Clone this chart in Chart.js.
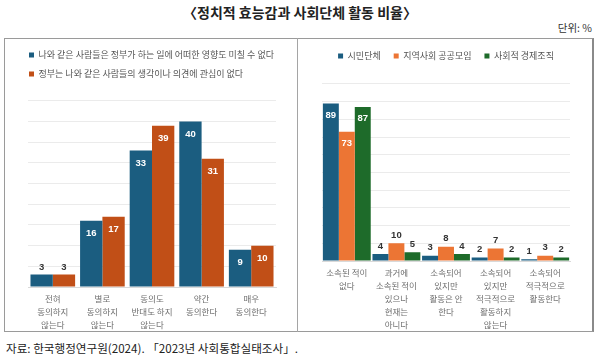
<!DOCTYPE html>
<html>
<head>
<meta charset="utf-8">
<script src="https://cdn.jsdelivr.net/npm/chart.js@4/dist/chart.umd.min.js"></script>
<style>
  html, body { margin: 0; padding: 0; background: #fff; }
  #wrap { position: relative; width: 600px; height: 358px; overflow: hidden; font-family: "Noto Sans CJK KR", "Noto Sans", sans-serif; }
  #title { position: absolute; left: 0; top: 3px; width: 600px; text-align: center; font-weight: bold; font-size: 14px; color: #222; line-height: 18px; }
  #unit { position: absolute; right: 8px; top: 21px; font-size: 10.5px; color: #333; line-height: 14px; }
  #box { position: absolute; left: 4px; top: 38px; width: 587px; height: 292px; border: 1px solid #9a9a9a; border-right: 2px solid #8a8a8a; box-sizing: content-box; }
  #divider { position: absolute; left: 297px; top: 38px; width: 1px; height: 294px; background: #a5a5a5; }
  #source { position: absolute; left: 6px; top: 340px; font-size: 11.6px; color: #222; line-height: 16px; white-space: nowrap; }
  #c1 { position: absolute; left: 4px; top: 37px; }
  #c2 { position: absolute; left: 297px; top: 37px; }
</style>
</head>
<body>
<div id="wrap">
  <div id="title">〈정치적 효능감과 사회단체 활동 비율〉</div>
  <div id="unit">단위: %</div>
  <div id="box"></div>
  <div id="divider"></div>
  <canvas id="c1" width="293" height="294"></canvas>
  <canvas id="c2" width="295" height="294"></canvas>
  <div id="source">자료: 한국행정연구원(2024). 「2023년 사회통합실태조사」.</div>
</div>
<script>
// ---- Left chart data ----
const leftCategories = [
  ["전혀", "동의하지", "않는다"],
  ["별로", "동의하지", "않는다"],
  ["동의도", "반대도 하지", "않는다"],
  ["약간", "동의한다"],
  ["매우", "동의한다"]
];
const leftSeriesNames = [
  "나와 같은 사람들은 정부가 하는 일에 어떠한 영향도 미칠 수 없다",
  "정부는 나와 같은 사람들의 생각이나 의견에 관심이 없다"
];
const leftSeries1 = [3, 16, 33, 40, 9];
const leftSeries2 = [3, 17, 39, 31, 10];

// ---- Right chart data ----
const rightCategories = [
  ["소속된 적이", "없다"],
  ["과거에", "소속된 적이", "있으나", "현재는", "아니다"],
  ["소속되어", "있지만", "활동은 안", "한다"],
  ["소속되어", "있지만", "적극적으로", "활동하지", "않는다"],
  ["소속되어", "적극적으로", "활동한다"]
];
const rightSeriesNames = ["시민단체", "지역사회 공공모임", "사회적 경제조직"];
const rightSeries1 = [89, 4, 3, 2, 1];
const rightSeries2 = [73, 10, 8, 7, 3];
const rightSeries3 = [87, 5, 4, 2, 2];

const BLUE = "#1B5D80";
const DARK_ORANGE = "#C14F17";
const ORANGE = "#EC7534";
const GREEN = "#1E6B2A";

const valueLabels = {
  id: "valueLabels",
  afterDatasetsDraw(chart, args, opts) {
    const ctx = chart.ctx;
    chart.data.datasets.forEach((ds, i) => {
      const meta = chart.getDatasetMeta(i);
      if (meta.hidden) return;
      meta.data.forEach((bar, j) => {
        const v = ds.data[j];
        const h = bar.base - bar.y;
        ctx.save();
        ctx.font = "bold 9.5px 'Liberation Sans', Arial, sans-serif";
        ctx.textAlign = "center";
        ctx.textBaseline = "middle";
        if (h > opts.threshold) {
          ctx.fillStyle = "#ffffff";
          ctx.fillText(String(v), bar.x, bar.y + opts.inside);
        } else {
          ctx.fillStyle = "#333333";
          ctx.fillText(String(v), bar.x, bar.y - opts.outside);
        }
        ctx.restore();
      });
    });
  }
};

const tickFont = { family: "'Noto Sans CJK KR', sans-serif", size: 8.5, lineHeight: "13px" };
const legendFont = { family: "'Noto Sans CJK KR', sans-serif", size: 9 };

new Chart(document.getElementById("c1"), {
  type: "bar",
  data: {
    labels: leftCategories,
    datasets: [
      { label: leftSeriesNames[0], data: leftSeries1, backgroundColor: BLUE, borderWidth: 0 },
      { label: leftSeriesNames[1], data: leftSeries2, backgroundColor: DARK_ORANGE, borderWidth: 0 }
    ]
  },
  options: {
    responsive: false,
    animation: false,
    devicePixelRatio: 1,
    layout: { padding: { left: 15, right: 21, top: 3.5, bottom: 0 } },
    datasets: { bar: { categoryPercentage: 0.9, barPercentage: 1.0 } },
    plugins: {
      legend: {
        position: "top",
        align: "start",
        labels: { boxWidth: 5, boxHeight: 5, padding: 10, color: "#555", font: legendFont }
      },
      tooltip: { enabled: false },
      valueLabels: { threshold: 25, inside: 12.5, outside: 7 }
    },
    scales: {
      x: {
        grid: { display: false, drawTicks: false },
        border: { display: true, color: "#d9d9d9" },
        ticks: { color: "#6e6e6e", font: tickFont, padding: 5.5, maxRotation: 0, autoSkip: false },
        afterFit(scale) { scale.height = 44; }
      },
      y: {
        min: 0, max: 48,
        ticks: { display: false, stepSize: 5, includeBounds: false },
        grid: { color: "#ebebeb", drawTicks: false },
        border: { display: false },
        afterFit(scale) { scale.width = 9; }
      }
    }
  },
  plugins: [valueLabels]
});

new Chart(document.getElementById("c2"), {
  type: "bar",
  data: {
    labels: rightCategories,
    datasets: [
      { label: rightSeriesNames[0], data: rightSeries1, backgroundColor: BLUE, borderWidth: 0 },
      { label: rightSeriesNames[1], data: rightSeries2, backgroundColor: ORANGE, borderWidth: 0 },
      { label: rightSeriesNames[2], data: rightSeries3, backgroundColor: GREEN, borderWidth: 0 }
    ]
  },
  options: {
    responsive: false,
    animation: false,
    devicePixelRatio: 1,
    layout: { padding: { left: 25, right: 22, top: 1.5, bottom: 0 } },
    datasets: { bar: { categoryPercentage: 0.965, barPercentage: 1.0 } },
    plugins: {
      legend: {
        position: "top",
        align: "center",
        labels: { boxWidth: 5, boxHeight: 5, padding: 13, color: "#555", font: legendFont }
      },
      tooltip: { enabled: false },
      valueLabels: { threshold: 25, inside: 11.5, outside: 8 }
    },
    scales: {
      x: {
        grid: { display: false, drawTicks: false },
        border: { display: true, color: "#d9d9d9" },
        ticks: { color: "#6e6e6e", font: tickFont, padding: 5.5, maxRotation: 0, autoSkip: false },
        afterFit(scale) { scale.height = 70; }
      },
      y: {
        min: 0, max: 107.6,
        ticks: { display: false, stepSize: 10, includeBounds: false },
        grid: { color: "#ebebeb", drawTicks: false },
        border: { display: false },
        afterFit(scale) { scale.width = 0; }
      }
    }
  },
  plugins: [valueLabels]
});
</script>
</body>
</html>
